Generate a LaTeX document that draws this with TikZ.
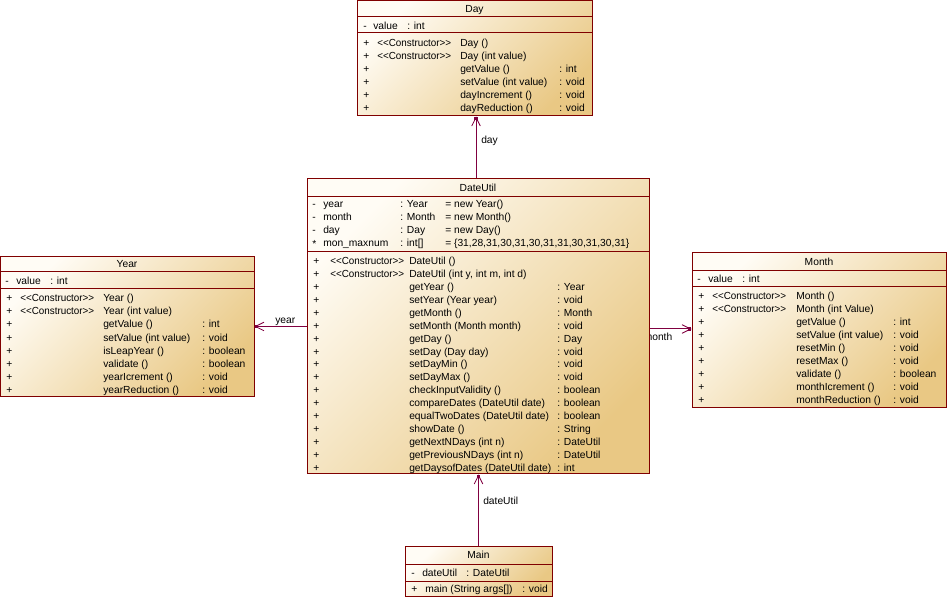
\documentclass[tikz,border=0pt]{standalone}
\usepackage{fontspec}
\usepackage{graphicx}
\setmainfont{Liberation Sans}
\usetikzlibrary{arrows.meta,fit,calc}
\definecolor{bord}{RGB}{128,0,0}
\definecolor{linec}{RGB}{128,0,64}
\definecolor{clight}{RGB}{255,252,245}
\definecolor{cdark}{RGB}{233,200,132}
\newcounter{tn}
\newcommand\T[3]{\stepcounter{tn}\node[txt] (t\arabic{tn}) at (#1,{#2+3.8}) {#3};}
\newcommand\Ttl[3]{\stepcounter{tn}\node[ttl] (t\arabic{tn}) at (#1,{#2+3.8}) {#3};}
\newcommand\Cons{\scalebox{0.96}[1]{<{}<Constructor>{}>}}
\begin{document}
\begin{tikzpicture}[x=0.75pt,y=-0.75pt,
  cls/.style={draw=bord, line width=0.75pt, top color=clight, bottom color=cdark, shading angle=45, inner sep=0pt},
  sepline/.style={draw=bord, line width=0.75pt},
  txt/.style={anchor=base west, inner sep=0pt, font=\fontsize{7.7}{9}\selectfont},
  ttl/.style={anchor=base, inner sep=0pt, font=\fontsize{7.7}{9}\selectfont},
  assoc/.style={draw=linec, line width=0.75pt, -{Straight Barb[length=6.5pt,width=6.5pt,line width=0.6pt]}},
  tipdot/.style={fill=linec, minimum size=2.6pt, inner sep=0pt}]
\useasboundingbox (0,0) rectangle (947,598);

% label partly hidden behind DateUtil
\T{643.5}{337}{month}

% ---------- Day ----------
\node[cls, fit={(357,1) (592,116)}] (day) {};
\draw[sepline] (357,17) -- (592,17);
\draw[sepline] (357,33) -- (592,33);
\Ttl{474.5}{9}{Day}
\T{363}{26}{-}\T{373}{26}{value}\T{407}{26}{: int}
\T{363}{43}{+}\T{377}{43}{\Cons}\T{460}{43}{Day ()}
\T{363}{56}{+}\T{377}{56}{\Cons}\T{460}{56}{Day (int value)}
\T{363}{69}{+}\T{460}{69}{getValue ()}\T{559}{69}{: int}
\T{363}{82}{+}\T{460}{82}{setValue (int value)}\T{559}{82}{: void}
\T{363}{95}{+}\T{460}{95}{dayIncrement ()}\T{559}{95}{: void}
\T{363}{108}{+}\T{460}{108}{dayReduction ()}\T{559}{108}{: void}

% ---------- DateUtil ----------
\node[cls, fit={(307,179) (649,474)}] (dateutil) {};
\draw[sepline] (307,197) -- (649,197);
\draw[sepline] (307,252) -- (649,252);
\Ttl{478}{188}{DateUtil}
\T{312}{204}{-}\T{323}{204}{year}\T{400}{204}{: Year}\T{445}{204}{= new Year()}
\T{312}{217}{-}\T{323}{217}{month}\T{400}{217}{: Month}\T{445}{217}{= new Month()}
\T{312}{230}{-}\T{323}{230}{day}\T{400}{230}{: Day}\T{445}{230}{= new Day()}
\T{312}{243.5}{*}\T{323}{243}{mon\_maxnum}\T{400}{243}{: int[]}\T{445}{243}{= \{31,28,31,30,31,30,31,31,30,31,30,31\}}
\T{313}{261}{+}\T{330}{261}{\Cons}\T{409}{261}{DateUtil ()}
\T{313}{273.9}{+}\T{330}{273.9}{\Cons}\T{409}{273.9}{DateUtil (int y, int m, int d)}
\T{313}{286.8}{+}\T{409}{286.8}{getYear ()}\T{557}{286.8}{: Year}
\T{313}{299.7}{+}\T{409}{299.7}{setYear (Year year)}\T{557}{299.7}{: void}
\T{313}{312.6}{+}\T{409}{312.6}{getMonth ()}\T{557}{312.6}{: Month}
\T{313}{325.5}{+}\T{409}{325.5}{setMonth (Month month)}\T{557}{325.5}{: void}
\T{313}{338.4}{+}\T{409}{338.4}{getDay ()}\T{557}{338.4}{: Day}
\T{313}{351.3}{+}\T{409}{351.3}{setDay (Day day)}\T{557}{351.3}{: void}
\T{313}{364.2}{+}\T{409}{364.2}{setDayMin ()}\T{557}{364.2}{: void}
\T{313}{377.1}{+}\T{409}{377.1}{setDayMax ()}\T{557}{377.1}{: void}
\T{313}{390}{+}\T{409}{390}{checkInputValidity ()}\T{557}{390}{: boolean}
\T{313}{402.9}{+}\T{409}{402.9}{compareDates (DateUtil date)}\T{557}{402.9}{: boolean}
\T{313}{415.8}{+}\T{409}{415.8}{equalTwoDates (DateUtil date)}\T{557}{415.8}{: boolean}
\T{313}{428.7}{+}\T{409}{428.7}{showDate ()}\T{557}{428.7}{: String}
\T{313}{441.6}{+}\T{409}{441.6}{getNextNDays (int n)}\T{557}{441.6}{: DateUtil}
\T{313}{454.5}{+}\T{409}{454.5}{getPreviousNDays (int n)}\T{557}{454.5}{: DateUtil}
\T{313}{467.4}{+}\T{409}{467.4}{getDaysofDates (DateUtil date)}\T{557}{467.4}{: int}

% ---------- Year ----------
\node[cls, fit={(0.5,257) (254,397)}] (year) {};
\draw[sepline] (0.5,272) -- (254,272);
\draw[sepline] (0.5,289) -- (254,289);
\Ttl{127}{264}{Year}
\T{5}{281}{-}\T{16}{281}{value}\T{50}{281}{: int}
\T{6}{298}{+}\T{20}{298}{\Cons}\T{103}{298}{Year ()}
\T{6}{311.1}{+}\T{20}{311.1}{\Cons}\T{103}{311.1}{Year (int value)}
\T{6}{324.2}{+}\T{103}{324.2}{getValue ()}\T{202}{324.2}{: int}
\T{6}{337.3}{+}\T{103}{337.3}{setValue (int value)}\T{202}{337.3}{: void}
\T{6}{350.4}{+}\T{103}{350.4}{isLeapYear ()}\T{202}{350.4}{: boolean}
\T{6}{363.5}{+}\T{103}{363.5}{validate ()}\T{202}{363.5}{: boolean}
\T{6}{376.6}{+}\T{103}{376.6}{yearIcrement ()}\T{202}{376.6}{: void}
\T{6}{389.7}{+}\T{103}{389.7}{yearReduction ()}\T{202}{389.7}{: void}

% ---------- Month ----------
\node[cls, fit={(692,253) (946,408)}] (month) {};
\draw[sepline] (692,271) -- (946,271);
\draw[sepline] (692,287) -- (946,287);
\Ttl{819}{262}{Month}
\T{697}{279}{-}\T{708}{279}{value}\T{742}{279}{: int}
\T{698}{296}{+}\T{712}{296}{\Cons}\T{796}{296}{Month ()}
\T{698}{309}{+}\T{712}{309}{\Cons}\T{796}{309}{Month (int Value)}
\T{698}{322}{+}\T{796}{322}{getValue ()}\T{893}{322}{: int}
\T{698}{335}{+}\T{796}{335}{setValue (int value)}\T{893}{335}{: void}
\T{698}{348}{+}\T{796}{348}{resetMin ()}\T{893}{348}{: void}
\T{698}{361}{+}\T{796}{361}{resetMax ()}\T{893}{361}{: void}
\T{698}{374}{+}\T{796}{374}{validate ()}\T{893}{374}{: boolean}
\T{698}{387}{+}\T{796}{387}{monthIcrement ()}\T{893}{387}{: void}
\T{698}{400}{+}\T{796}{400}{monthReduction ()}\T{893}{400}{: void}

% ---------- Main ----------
\node[cls, fit={(405,547) (552,597)}] (main) {};
\draw[sepline] (405,565) -- (552,565);
\draw[sepline] (405,582) -- (552,582);
\Ttl{478.5}{555}{Main}
\T{411}{573}{-}\T{422}{573}{dateUtil}\T{466}{573}{: DateUtil}
\T{411}{589}{+}\T{425}{589}{main (String args[])}\T{522}{589}{: void}

% ---------- connectors ----------
\coordinate (dayin) at ($(dateutil.north)+(-2,0)$);
\draw[assoc] (dayin) -- (dayin |- day.south);
\node[tipdot, anchor=north] (dot1) at (dayin |- day.south) {};
\T{481}{140}{day}

\draw[assoc] (dateutil.west) -- (dateutil.west -| year.east);
\node[tipdot, anchor=west] (dot2) at (dateutil.west -| year.east) {};
\T{275}{320}{year}

\coordinate (moin) at ($(dateutil.east)+(0,2.5)$);
\draw[assoc] (moin) -- (moin -| month.west);
\node[tipdot, anchor=east] (dot3) at (moin -| month.west) {};

\draw[assoc] (main.north) -- (main.north |- dateutil.south);
\node[tipdot, anchor=north] (dot4) at (main.north |- dateutil.south) {};
\T{483}{501}{dateUtil}
\end{tikzpicture}
\end{document}
